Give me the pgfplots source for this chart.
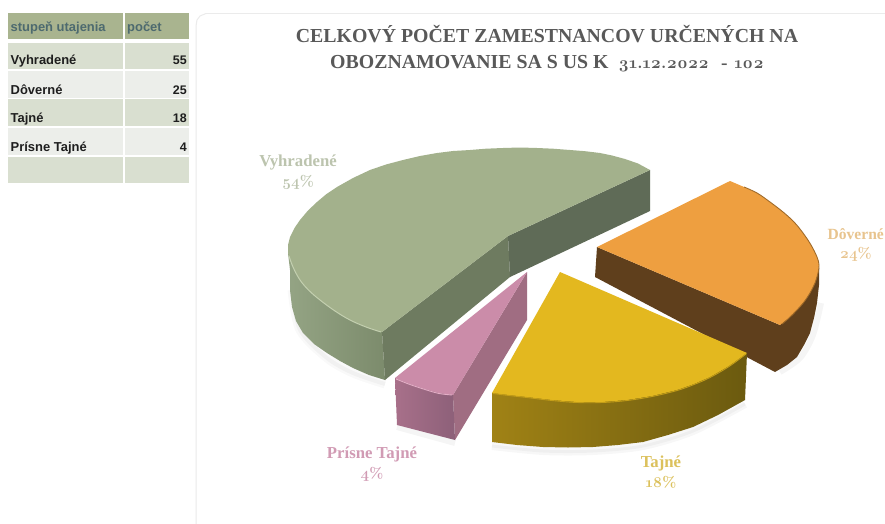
\documentclass[border=0pt]{standalone}
\usepackage{fontspec}
\setmainfont{Liberation Serif}
\newfontfamily\arialfont{Liberation Sans}
\newfontfamily\osf[Numbers=OldStyle]{Latin Modern Roman}
\usepackage{pgfplots}
\pgfplotsset{compat=1.18}
\definecolor{hdr}{HTML}{A9B48F}
\definecolor{hdrtxt}{HTML}{4D6A6F}
\definecolor{rowa}{HTML}{D9DFD0}
\definecolor{rowb}{HTML}{ECEEEA}
\definecolor{txt}{HTML}{1E1E1E}
\definecolor{gtop}{HTML}{A3B18C}
\definecolor{gsl}{HTML}{94A484}
\definecolor{gsr}{HTML}{7C8B6C}
\definecolor{gin}{HTML}{6E7B60}
\definecolor{ginr}{HTML}{5F6B57}
\definecolor{grim}{HTML}{C4D0B0}
\definecolor{otop}{HTML}{EE9F40}
\definecolor{oin}{HTML}{5F3F1C}
\definecolor{orim}{HTML}{A06A28}
\definecolor{ytop}{HTML}{E3B81F}
\definecolor{ysl}{HTML}{A08215}
\definecolor{ysr}{HTML}{6B5A0F}
\definecolor{yrim}{HTML}{C49E18}
\definecolor{ptop}{HTML}{CB8CA9}
\definecolor{pin}{HTML}{A06D82}
\definecolor{psl}{HTML}{A8708A}
\definecolor{psr}{HTML}{8D6079}
\definecolor{prim}{HTML}{E3AEC6}
\definecolor{lg}{HTML}{BCC4AE}
\definecolor{lp}{HTML}{D19BB4}
\definecolor{ly}{HTML}{DCC15C}
\definecolor{lo}{HTML}{E8C48E}
\newcommand{\cell}[5]{\addplot[fill=#5,draw=none] coordinates {(#1,#2) (#3,#2) (#3,#4) (#1,#4)} --cycle;}
\newcommand{\celltxt}[2]{\node[anchor=base west,inner sep=0pt,font=\arialfont\bfseries\fontsize{13}{15}\selectfont,text=txt] at (axis cs:10.5,#1) {#2};}
\newcommand{\cellnum}[2]{\node[anchor=base east,inner sep=0pt,font=\arialfont\bfseries\fontsize{12.5}{15}\selectfont,text=txt] at (axis cs:187,#1) {#2};}
\newcommand{\lbl}[5]{\node[align=center,inner sep=0pt,text=#5,font=\bfseries\fontsize{16.8}{20}\selectfont] at (axis cs:#1,#2) {#3\\{\osf\fontsize{15}{20}\selectfont #4}};}
\begin{document}
\begin{tikzpicture}
\begin{axis}[scale only axis,width=885bp,height=524bp,xmin=0,xmax=885,ymin=0,ymax=524,y dir=reverse,hide axis,clip=true]
\cell{0}{0}{885}{524}{white}
% card outline
\addplot[color=black!8,line width=1pt] coordinates {(196,524) (196,26) (197,20) (200,16) (206,13.5) (885,13.5)};
% table
\cell{8.3}{12.7}{122.7}{39.3}{hdr}\cell{125}{12.7}{189.3}{39.3}{hdr}
\cell{8.3}{43.3}{122.7}{69}{rowa}\cell{125}{43.3}{189.3}{69}{rowa}
\cell{8.3}{70.7}{122.7}{97.7}{rowb}\cell{125}{70.7}{189.3}{97.7}{rowb}
\cell{8.3}{99}{122.7}{126}{rowa}\cell{125}{99}{189.3}{126}{rowa}
\cell{8.3}{127.7}{122.7}{155}{rowb}\cell{125}{127.7}{189.3}{155}{rowb}
\cell{8.3}{156.7}{122.7}{182.7}{rowa}\cell{125}{156.7}{189.3}{182.7}{rowa}
\node[anchor=base west,inner sep=0pt,font=\arialfont\bfseries\fontsize{13}{15}\selectfont,text=hdrtxt] at (axis cs:10.5,32) {stupeň utajenia};
\node[anchor=base west,inner sep=0pt,font=\arialfont\bfseries\fontsize{13}{15}\selectfont,text=hdrtxt] at (axis cs:127,32) {počet};
\celltxt{65}{Vyhradené}\cellnum{65}{55}
\celltxt{94}{Dôverné}\cellnum{94}{25}
\celltxt{122}{Tajné}\cellnum{122}{18}
\celltxt{151}{Prísne Tajné}\cellnum{151}{4}
% title
\node[align=center,inner sep=0pt,text=black!65,font=\bfseries\fontsize{19.9}{26}\selectfont] at (axis cs:547,49) {CELKOVÝ POČET ZAMESTNANCOV URČENÝCH NA\\OBOZNAMOVANIE SA S US K\ \ {\osf\fontsize{17}{26}\selectfont 31.12.2022\ \ - 102}};
% soft shadows
\addplot[smooth,color=black,opacity=.025,line width=9pt] coordinates {(292,290) (300,330) (327,358) (353,373) (385,384)};
\addplot[smooth,color=black,opacity=.03,line width=4pt] coordinates {(292,290) (300,330) (327,358) (353,373) (385,384)};
\addplot[smooth,color=black,opacity=.03,line width=8pt] coordinates {(492,446) (543,451) (593,451) (643,446) (693,431) (745,404)};
\addplot[smooth,color=black,opacity=.03,line width=3pt] coordinates {(492,446) (543,451) (593,451) (643,446) (693,431) (745,404)};
\addplot[color=black,opacity=.04,line width=6pt] coordinates {(397,427) (455,443)};
\addplot[smooth,color=black,opacity=.04,line width=6pt] coordinates {(780,372) (800,358) (813,335) (821,303)};
% green slice
\addplot[draw=none,left color=gsl,right color=gsr] coordinates {(288,253) (290,270) (290,290) (292,307) (296,321) (303,333) (314,344) (327,353) (340,361) (353,368) (369,375) (385,380) (382,332) (350,300)} --cycle;
\addplot[fill=gin,draw=none] coordinates {(382,332) (508,236) (510,277) (385,380)} --cycle;
\addplot[fill=ginr,draw=none] coordinates {(508,236) (650,170) (650,211) (510,277)} --cycle;
\addplot[fill=gtop,draw=none] coordinates {(508,236) (382,332) (366,327) (350,320) (335,311) (320,300) (309,290.5) (300,280) (293,267) (288,253) (288,245) (290,237) (294.5,228) (300,220) (308,210.5) (317,202) (326.5,194) (337,187) (353,178) (370,170) (386,164.5) (403,160) (420,156) (437,153) (453,151) (470,150) (486,148.7) (503,148) (520,147.5) (537,148) (553,148.7) (570,150) (585,151.2) (600,153) (612,155.5) (625,159) (638,163.5) (650,170)} --cycle;
\addplot[smooth,tension=0.6,color=grim,line width=1pt] coordinates {(289,256) (293,267) (300,280) (309,290.5) (320,300) (335,311) (350,320) (366,327) (381,332)};
% orange
\addplot[fill=oin,draw=none] coordinates {(597,247) (780,325) (819,268) (819,285) (817,303) (814,318) (810,333) (804,345) (797,357) (787,365) (775,372) (595,277)} --cycle;
\addplot[fill=otop,draw=none] coordinates {(597,247) (730,181) (744,187) (757,193) (770,202) (783,212) (794,222) (803,233) (811,245) (817,257) (819,265) (818,273) (815,283) (810,293) (804,302) (797,310) (789,318) (780,325)} --cycle;
\addplot[smooth,tension=0.6,color=orim,line width=0.9pt] coordinates {(744,187) (757,193) (770,202) (783,212) (794,222) (803,233) (811,245) (817,257) (819,265) (818,273) (815,283) (810,293) (804,302) (797,310) (789,318) (782,324)};
% yellow
\addplot[draw=none,left color=ysl,right color=ysr] coordinates {(492,393) (560,380) (747,353) (745,400) (718,415) (693,427) (668,435) (643,442) (618,445) (593,447) (568,447.5) (543,447) (517,445) (492,442)} --cycle;
\addplot[fill=ytop,draw=none] coordinates {(560,272) (747,353) (729,366) (710,377) (694,384) (677,390) (652,396) (627,400) (602,402) (577,402) (552,400) (527,397) (509,395) (492,393)} --cycle;
\addplot[smooth,tension=0.6,color=yrim,line width=0.9pt] coordinates {(746,354) (729,366.5) (710,377.5) (694,384.5) (677,390.5) (652,396.5) (627,400.5) (602,402.5) (577,402.5) (552,400.5) (527,397.5) (509,395.5) (493,393.5)};
% pink
\addplot[fill=pin,draw=none] coordinates {(527,272) (527,320) (455,440) (453,395)} --cycle;
\addplot[draw=none,left color=psl,right color=psr] coordinates {(395,378) (453,395) (455,440) (397,425)} --cycle;
\addplot[fill=ptop,draw=none] coordinates {(527,272) (453,395) (439,393) (425,389) (410,384) (395,378)} --cycle;
\addplot[smooth,color=prim,line width=0.9pt] coordinates {(396,379) (410,384.5) (425,389.5) (439,393.5) (452,395)};
% labels
\lbl{298}{172}{Vyhradené}{54\%}{lg}
\lbl{372}{464}{Prísne Tajné}{4\%}{lp}
\lbl{661}{472}{Tajné}{18\%}{ly}
\node[anchor=east,align=center,inner sep=0pt,text=lo,font=\bfseries\fontsize{15.6}{20}\selectfont] at (axis cs:884,245) {Dôverné\\{\osf\fontsize{15}{20}\selectfont 24\%}};
\end{axis}
\end{tikzpicture}
\end{document}
